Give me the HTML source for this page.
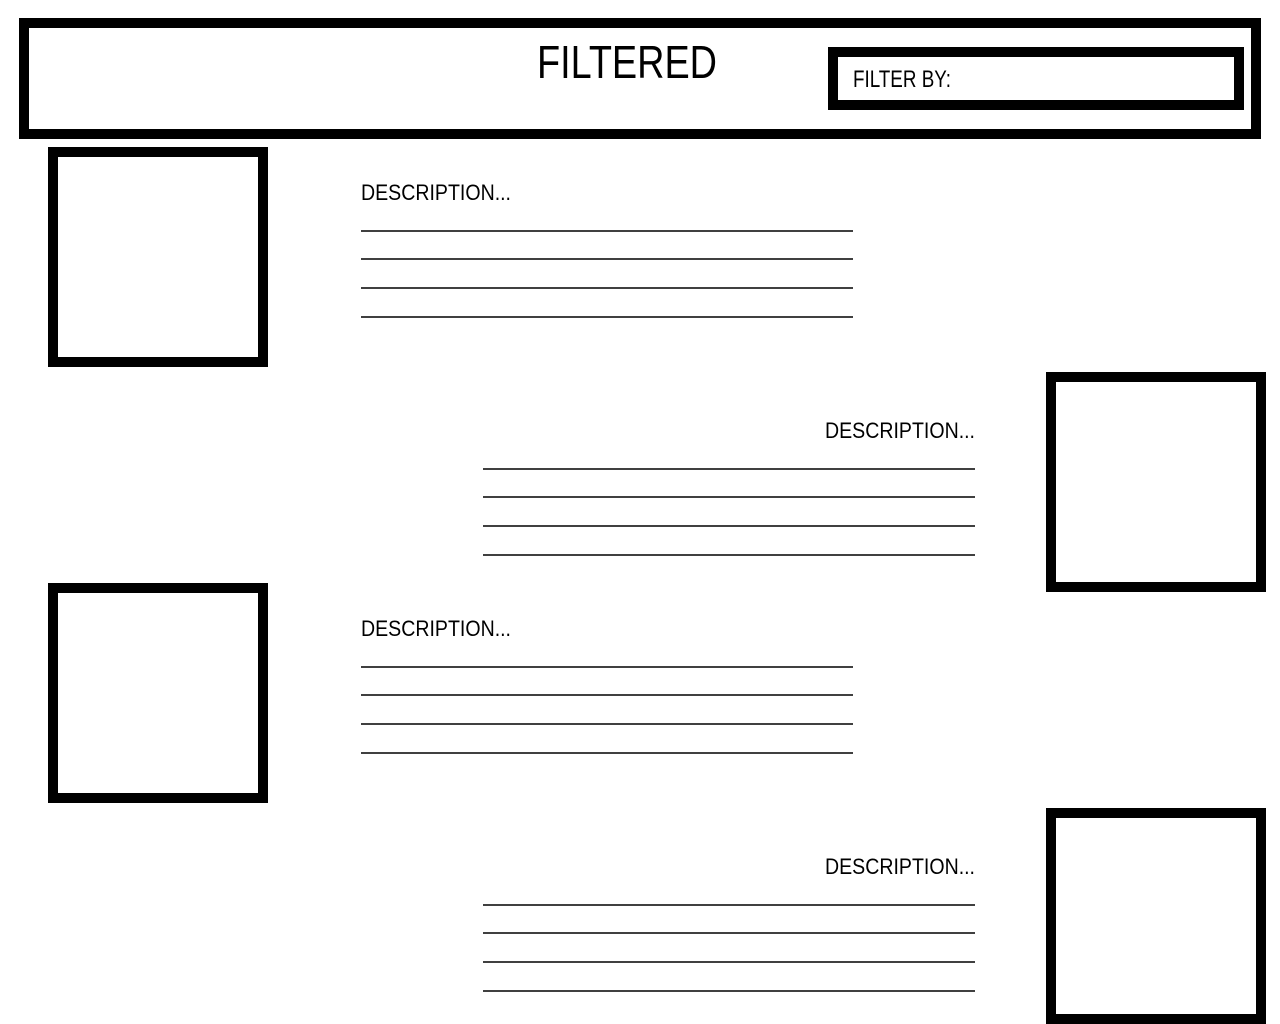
<!DOCTYPE html>
<html><head><style>html,body{margin:0;padding:0;background:#fff;}svg{display:block}</style></head>
<body>
<svg width="1280" height="1024" viewBox="0 0 1280 1024" xmlns="http://www.w3.org/2000/svg" font-family="Liberation Sans, sans-serif">
<rect x="0" y="0" width="1280" height="1024" fill="#fff"/>
<g fill="none" stroke="#000" stroke-width="10">
<rect x="24" y="23" width="1232" height="111"/>
<rect x="833" y="52" width="406" height="53"/>
<rect x="53" y="152" width="210" height="210"/>
<rect x="1051" y="377" width="210" height="210"/>
<rect x="53" y="588" width="210" height="210"/>
<rect x="1051" y="813" width="210" height="206"/>
</g>
<text x="537" y="78" font-size="46" textLength="180" lengthAdjust="spacingAndGlyphs">FILTERED</text>
<text x="853" y="87" font-size="24" textLength="98" lengthAdjust="spacingAndGlyphs">FILTER BY:</text>
<g font-size="22">
<text x="361" y="200" textLength="150" lengthAdjust="spacingAndGlyphs">DESCRIPTION...</text>
<text x="825" y="438" textLength="150" lengthAdjust="spacingAndGlyphs">DESCRIPTION...</text>
<text x="361" y="636" textLength="150" lengthAdjust="spacingAndGlyphs">DESCRIPTION...</text>
<text x="825" y="874" textLength="150" lengthAdjust="spacingAndGlyphs">DESCRIPTION...</text>
</g>
<g stroke="#000" stroke-width="1.5">
<line x1="361" x2="853" y1="231" y2="231"/><line x1="361" x2="853" y1="259" y2="259"/><line x1="361" x2="853" y1="288" y2="288"/><line x1="361" x2="853" y1="317" y2="317"/>
<line x1="483" x2="975" y1="469" y2="469"/><line x1="483" x2="975" y1="497" y2="497"/><line x1="483" x2="975" y1="526" y2="526"/><line x1="483" x2="975" y1="555" y2="555"/>
<line x1="361" x2="853" y1="667" y2="667"/><line x1="361" x2="853" y1="695" y2="695"/><line x1="361" x2="853" y1="724" y2="724"/><line x1="361" x2="853" y1="753" y2="753"/>
<line x1="483" x2="975" y1="905" y2="905"/><line x1="483" x2="975" y1="933" y2="933"/><line x1="483" x2="975" y1="962" y2="962"/><line x1="483" x2="975" y1="991" y2="991"/>
</g>
</svg>
</body></html>
